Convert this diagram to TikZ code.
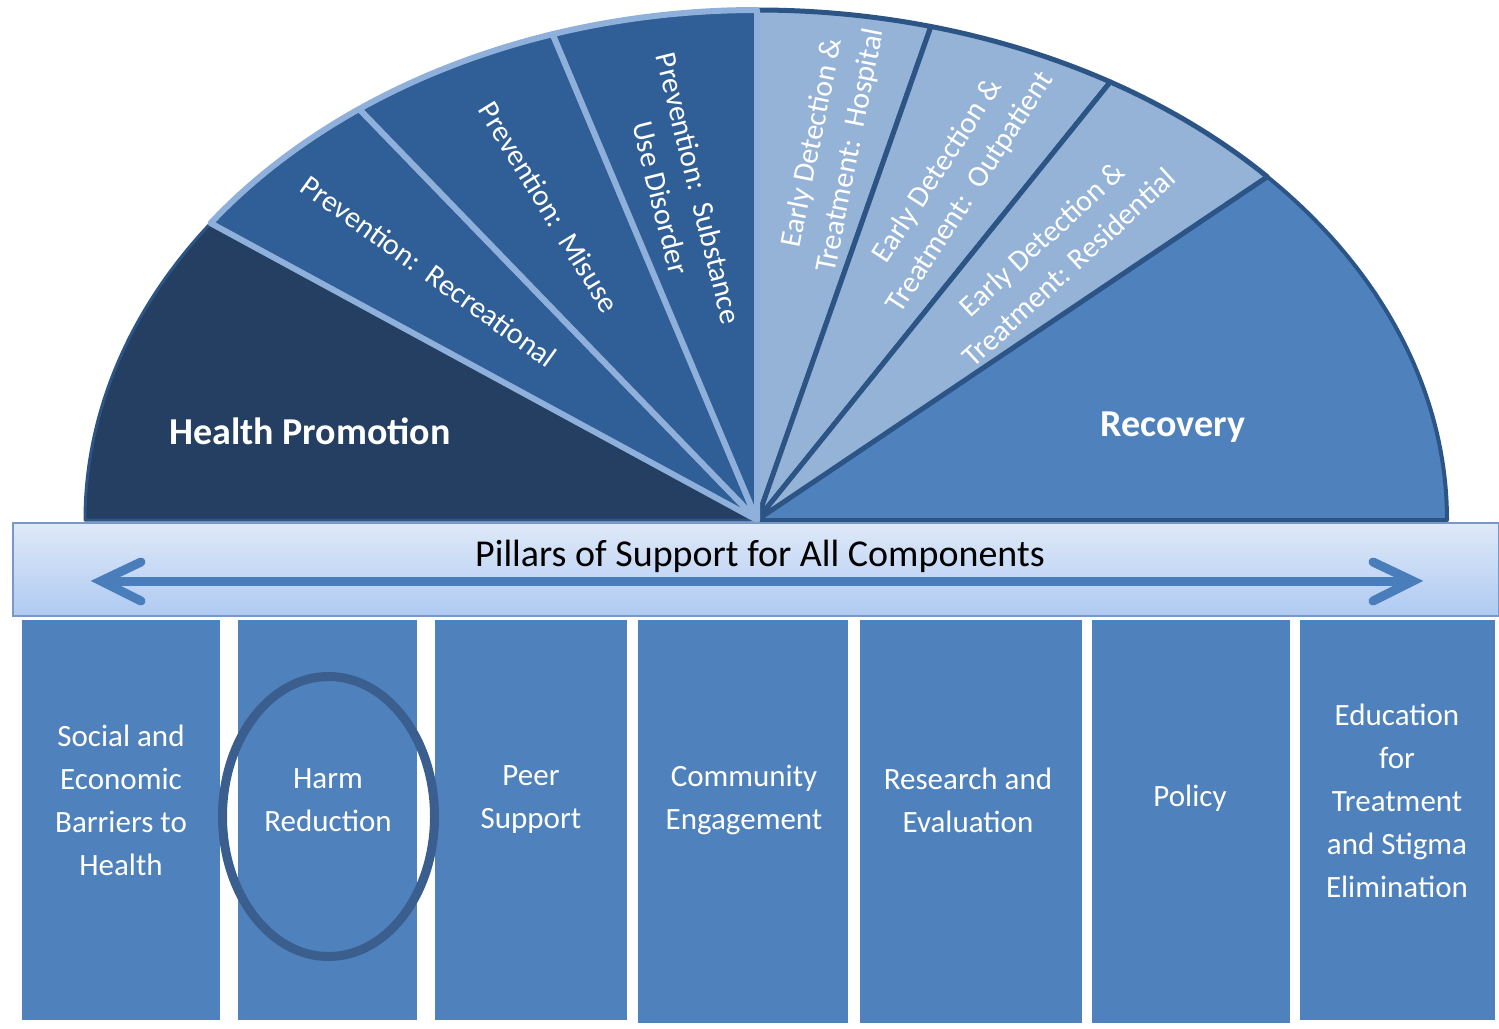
\documentclass[tikz,border=0pt]{standalone}
\usepackage{fontspec}
\setmainfont{Carlito}
\usetikzlibrary{shapes.geometric}
\definecolor{hpfill}{HTML}{243F62}
\definecolor{pvfill}{HTML}{305E96}
\definecolor{pvline}{HTML}{8EB0DA}
\definecolor{edfill}{HTML}{95B3D7}
\definecolor{dkline}{HTML}{2C5586}
\definecolor{rcfill}{HTML}{4F81BD}
\definecolor{colfill}{HTML}{4F81BD}
\definecolor{bartop}{HTML}{DFE9F8}
\definecolor{barbot}{HTML}{AFCAF2}
\definecolor{barline}{HTML}{7A98C4}
\definecolor{arrowc}{HTML}{4A7EBB}
\definecolor{ringc}{HTML}{3A5F8F}
\tikzset{
  hpseg/.style={fill=hpfill, draw=dkline, line width=3pt, line join=round},
  pvseg/.style={fill=pvfill, draw=pvline, line width=6pt, line join=round},
  edseg/.style={fill=edfill, draw=dkline, line width=5pt, line join=round},
  rcseg/.style={fill=rcfill, draw=dkline, line width=4pt, line join=round},
  fantext/.style={text=white, align=center, inner sep=0pt, font=\fontsize{30}{39}\selectfont},
  bigtext/.style={text=white, inner sep=0pt, font=\bfseries\fontsize{38}{46}\selectfont},
  coltext/.style={text=white, align=center, inner sep=0pt, font=\fontsize{31}{43}\selectfont},
  pillar/.style={fill=colfill},
  arrowline/.style={draw=arrowc, line width=9pt}
}
\begin{document}
\begin{tikzpicture}[x=1pt,y=-1pt]
\useasboundingbox (0,0) rectangle (1499,1028);
\coordinate (C) at (757,520);
% fan segments
\path[hpseg] (C) -- +(-180:672 and 510) arc[start angle=-180,end angle=-144.4,x radius=672,y radius=510] -- cycle;
\path[rcseg] (C) -- +(-42.3:690 and 510) arc[start angle=-42.3,end angle=0,x radius=690,y radius=510] -- cycle;
\path[edseg] (C) -- +(-90:690 and 510) arc[start angle=-90,end angle=-75.4,x radius=690,y radius=510] -- cycle;
\path[edseg] (C) -- +(-75.4:690 and 510) arc[start angle=-75.4,end angle=-59.2,x radius=690,y radius=510] -- cycle;
\path[edseg] (C) -- +(-59.2:690 and 510) arc[start angle=-59.2,end angle=-42.3,x radius=690,y radius=510] -- cycle;
\path[pvseg] (C) -- +(-144.4:672 and 510) arc[start angle=-144.4,end angle=-126.3,x radius=672,y radius=510] -- cycle;
\path[pvseg] (C) -- +(-126.3:672 and 510) arc[start angle=-126.3,end angle=-107.7,x radius=672,y radius=510] -- cycle;
\path[pvseg] (C) -- +(-107.7:672 and 510) arc[start angle=-107.7,end angle=-90,x radius=672,y radius=510] -- cycle;
% fan labels
\node[bigtext] (hp) at (310,431) {Health Promotion};
\node[bigtext] (rc) at (1173,427) {Recovery};
\node[fantext, rotate=-35.7] (prec) at (429,271) {Prevention:\ \ Recreational};
\node[fantext, rotate=-58.4] (pmis) at (549,207) {Prevention:\ \ Misuse};
\node[fantext, rotate=-76] (psub) at (680,193) {Prevention:\ \ Substance\\Use Disorder};
\node[fantext, rotate=78.7] (ehos) at (832,147) {Early Detection \&\\Treatment:\ \ Hospital};
\node[fantext, rotate=57] (eout) at (954,182) {Early Detection \&\\Treatment:\ \ Outpatient};
\node[fantext, rotate=42.6] (eres) at (1055,253) {Early Detection \&\\Treatment: Residential};
% pillar bar
\shade[top color=bartop, bottom color=barbot, draw=barline, line width=1.2pt] (13,523) rectangle (1499,616);
\node[inner sep=0pt, font=\fontsize{38}{46}\selectfont] (pillars) at (760,556) {Pillars of Support for All Components};
\coordinate (aL) at (101,581);
\coordinate (aR) at (1413,581);
\draw[arrowline] (aL) -- (aR);
\draw[arrowline, line cap=round, line join=miter] (aL) ++(40,-19) -- (aL) -- ++(40,20);
\draw[arrowline, line cap=round, line join=miter] (aR) ++(-40,-19) -- (aR) -- ++(-40,20);
% columns
\fill[pillar] (22,620) rectangle (220,1020);
\fill[pillar] (238,620) rectangle (417,1020);
\fill[pillar] (435,620) rectangle (627,1020);
\fill[pillar] (638,620) rectangle (848,1023);
\fill[pillar] (860,620) rectangle (1082,1023);
\fill[pillar] (1092,620) rectangle (1290,1023);
\fill[pillar] (1300,620) rectangle (1495,1020);
\node[coltext] (c1) at (121,800) {Social and\\Economic\\Barriers to\\Health};
\node[coltext] (c2) at (328,800) {Harm\\Reduction};
\node[coltext] (c3) at (531,800) {Peer\\Support};
\node[coltext] (c4) at (744,800) {Community\\Engagement};
\node[coltext] (c5) at (968,800) {Research and\\Evaluation};
\node[coltext] (c6) at (1190,798) {Policy};
\node[coltext] (c7) at (1397,801) {Education\\for\\Treatment\\and Stigma\\Elimination};
% highlight ring
\node[draw=ringc, line width=9pt, ellipse, minimum width=212pt, minimum height=280pt, inner sep=0pt] (ring) at (328.5,816.5) {};
\end{tikzpicture}
\end{document}
